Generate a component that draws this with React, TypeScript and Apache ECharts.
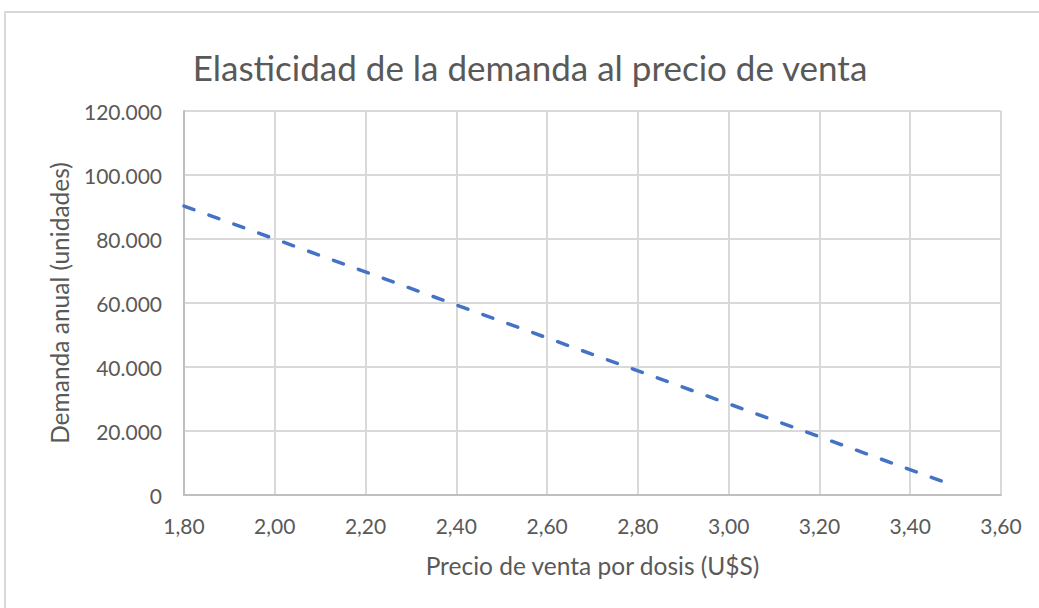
import React, { useEffect, useRef } from "react";
import * as echarts from "echarts";

const title = "Elasticidad de la demanda al precio de venta";
const xAxisName = "Precio de venta por dosis (U$S)";
const yAxisName = "Demanda anual (unidades)";

// Precio por dosis (U$S) y demanda anual estimada (unidades)
const prices = [1.8, 2.0, 2.4, 3.0, 3.2, 3.48];
const demand = [90300, 80000, 59400, 28500, 18200, 3800];

const xMin = 1.8;
const xMax = 3.6;
const xStep = 0.2;
const yMin = 0;
const yMax = 120000;
const yStep = 20000;

const fmtThousands = (v: number) =>
  Math.round(v)
    .toString()
    .replace(/\B(?=(\d{3})+(?!\d))/g, ".");
const fmtPrice = (v: number) => v.toFixed(2).replace(".", ",");

const FONT = "Lato, 'Noto Sans', sans-serif";
const TEXT = "#595959";
const GRID = "#d9d9d9";

export default function App() {
  const ref = useRef<HTMLDivElement>(null);

  useEffect(() => {
    if (!ref.current) return;
    const chart = echarts.init(ref.current, undefined, { renderer: "svg" });
    chart.setOption({
      animation: false,
      backgroundColor: "#ffffff",
      title: {
        text: title,
        left: 525,
        top: 44,
        textAlign: "center",
        textStyle: {
          color: TEXT,
          fontFamily: FONT,
          fontSize: 35,
          fontWeight: "normal",
        },
      },
      graphic: [
        {
          type: "rect",
          shape: { x: 5, y: 12, width: 1200, height: 800 },
          style: { fill: "none", stroke: GRID, lineWidth: 2 },
          silent: true,
        },
      ],
      grid: { left: 184, right: 38, top: 111, bottom: 113 },
      xAxis: {
        type: "value",
        min: xMin,
        max: xMax,
        interval: xStep,
        name: xAxisName,
        nameLocation: "middle",
        nameGap: 58,
        nameTextStyle: { color: TEXT, fontFamily: FONT, fontSize: 24.5 },
        axisLine: { show: true, lineStyle: { color: "#bfbfbf", width: 2 } },
        axisTick: { show: false },
        axisLabel: {
          color: TEXT,
          fontFamily: FONT,
          fontSize: 21,
          margin: 20,
          formatter: (v: number) => fmtPrice(v),
        },
        splitLine: { show: true, lineStyle: { color: GRID, width: 2 } },
      },
      yAxis: {
        type: "value",
        min: yMin,
        max: yMax,
        interval: yStep,
        name: yAxisName,
        nameLocation: "middle",
        nameGap: 112,
        nameTextStyle: { color: TEXT, fontFamily: FONT, fontSize: 24.5 },
        axisLine: { show: true, lineStyle: { color: "#bfbfbf", width: 2 } },
        axisTick: { show: false },
        axisLabel: {
          color: TEXT,
          fontFamily: FONT,
          fontSize: 21,
          margin: 22,
          formatter: (v: number) => fmtThousands(v),
        },
        splitLine: { show: true, lineStyle: { color: GRID, width: 2 } },
      },
      series: [
        {
          type: "line",
          data: prices.map((p, i) => [p, demand[i]]),
          showSymbol: false,
          symbol: "none",
          lineStyle: {
            color: "#4472c4",
            width: 3.5,
            type: [10.5, 16],
            cap: "round",
          },
        },
      ],
    });
    return () => chart.dispose();
  }, []);

  return (
    <div
      ref={ref}
      style={{ position: "fixed", left: 0, top: 0, width: 1039, height: 608 }}
    />
  );
}
